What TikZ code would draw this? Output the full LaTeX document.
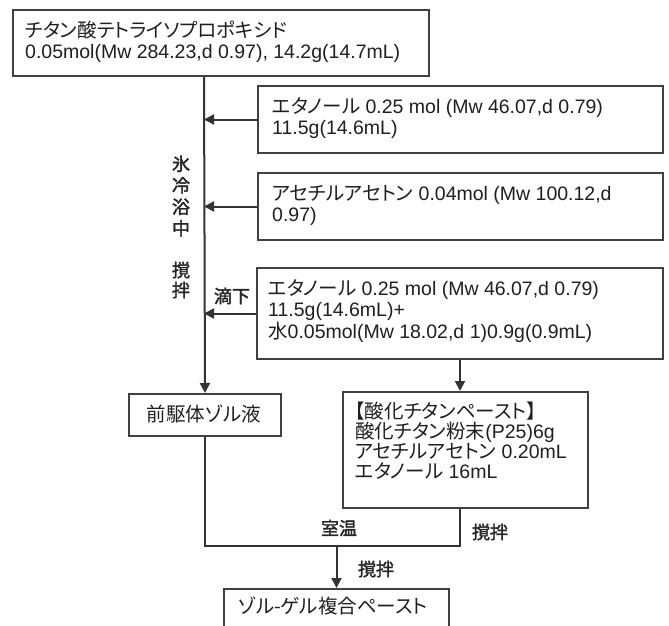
\documentclass[tikz,border=0pt]{standalone}
\usepackage{fontspec}
\usetikzlibrary{arrows.meta}
\setmainfont{Liberation Sans}
\newfontfamily\jp[Scale=1.0,RawFeature={+palt},AutoFakeBold=2]{Noto Sans CJK JP}
\newcommand\J[1]{{\jp #1}}
\newcommand\fr{\rule{0pt}{17pt}}
\begin{document}
\begin{tikzpicture}[x=1pt,y=-1pt,
  box/.style={draw=black!75, line width=2pt, inner sep=0pt, anchor=north west},
  txt/.style={inner sep=0pt, anchor=north west, align=left, text=black!88,
    font=\fontsize{19.5}{21.5}\selectfont},
  lbl/.style={inner sep=0pt, align=center, text=black!85,
    font=\jp\bfseries\fontsize{18}{21.5}\selectfont},
  conn/.style={draw=black!80, line width=2pt},
  arr/.style={conn, -{Triangle[length=10pt,width=10pt]}}]
\useasboundingbox[fill=white] (0,0) rectangle (669,626);
% boxes
\node[box, minimum width=416pt, minimum height=66pt] (top) at (12,9) {};
\node[box, minimum width=405pt, minimum height=67pt] (b1) at (257,85) {};
\node[box, minimum width=405pt, minimum height=67pt] (b2) at (257,172) {};
\node[box, minimum width=406pt, minimum height=91pt] (b3) at (256,267) {};
\node[box, minimum width=152pt, minimum height=42pt] (pre) at (128,393) {};
\node[box, minimum width=245pt, minimum height=116pt] (b4) at (342,391) {};
\node[box, minimum width=225pt, minimum height=60pt] (fin) at (223,588) {};
% texts
\node[txt] (ttop) at (25,20) {\fr\J{チタン酸テトライソプロポキシド}\\0.05mol(Mw 284.23,d 0.97), 14.2g(14.7mL)};
\node[txt] (tb1) at (272,96) {\fr\J{エタノール} 0.25 mol (Mw 46.07,d 0.79)\\11.5g(14.6mL)};
\node[txt] (tb2) at (272,183) {\fr\J{アセチルアセトン} 0.04mol (Mw 100.12,d\\0.97)};
\node[txt] (tb3) at (268,278) {\fr\J{エタノール} 0.25 mol (Mw 46.07,d 0.79)\\11.5g(14.6mL)+\\\J{水}0.05mol(Mw 18.02,d 1)0.9g(0.9mL)};
\node[txt, anchor=center] (tpre) at (204,414) {\J{前駆体ゾル液}};
\node[txt, font=\fontsize{19.5}{20}\selectfont] (tb4) at (355,401) {\fr\J{【酸化チタンペースト】}\\\J{酸化チタン粉末}(P25)6g\\\J{アセチルアセトン} 0.20mL\\\J{エタノール} 16mL};
\node[txt, anchor=base west] (tfin) at (238,613) {\J{ゾル-ゲル複合ペースト}};
% labels
\node[lbl] (l1) at (181,196) {氷\\冷\\浴\\中};
\node[lbl, font=\jp\bfseries\fontsize{18}{20}\selectfont] (l2) at (181,280) {撹\\拌};
\node[lbl] (l3) at (232,296) {滴下};
\node[lbl] (l4) at (339,528) {室温};
\node[lbl] (l5) at (490,532) {撹拌};
\node[lbl] (l6) at (376,569) {撹拌};
% connectors
\coordinate (mx) at (204,0);
\coordinate (bx) at (460,0);
\coordinate (jy) at (0,546);
\draw[arr] (top.south -| mx) -- (pre.north);
\draw[arr] (b1.west) -- (b1.west -| mx);
\draw[arr] (b2.west) -- (b2.west -| mx);
\draw[arr] (b3.west) -- (b3.west -| mx);
\draw[arr] (b3.south -| bx) -- (b4.north -| bx);
\draw[conn] (pre.south) |- (jy -| bx) -- (b4.south -| bx);
\draw[arr] (jy -| fin.north) -- (fin.north);
\end{tikzpicture}
\end{document}
